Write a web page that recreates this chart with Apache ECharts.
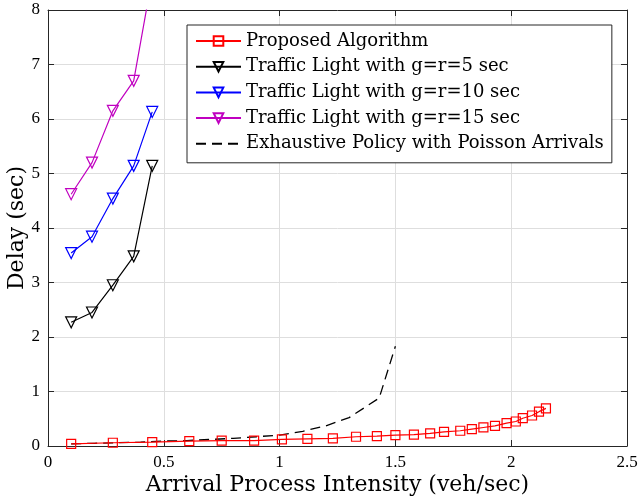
<!DOCTYPE html>
<html><head><meta charset="utf-8">
<script src="https://cdn.jsdelivr.net/npm/echarts@6/dist/echarts.min.js"></script>
<style>html,body{margin:0;padding:0;background:#fff}#c{width:640px;height:501px}</style>
</head><body><div id="c"></div>
<script>
const xTicks = [0, 0.5, 1, 1.5, 2, 2.5];
const yTicks = [0, 1, 2, 3, 4, 5, 6, 7, 8];

const proposedX = [0.1, 0.28, 0.45, 0.61, 0.75, 0.89, 1.01, 1.12, 1.23, 1.33, 1.42, 1.5, 1.58, 1.65, 1.71, 1.78, 1.83, 1.88, 1.93, 1.98, 2.02, 2.05, 2.09, 2.12, 2.15];
const proposedY = [0.04, 0.06, 0.07, 0.09, 0.1, 0.1, 0.12, 0.13, 0.14, 0.17, 0.18, 0.2, 0.21, 0.23, 0.26, 0.28, 0.31, 0.34, 0.37, 0.42, 0.45, 0.51, 0.56, 0.63, 0.69];

const lightX = [0.1, 0.19, 0.28, 0.37, 0.45];
const light5Y = [2.27, 2.45, 2.95, 3.48, 5.14];
const light10Y = [3.54, 3.84, 4.54, 5.14, 6.13];
const light15Y = [4.62, 5.2, 6.15, 6.7, 8.6];

const exhaustX = [0.1, 0.2, 0.3, 0.4, 0.5, 0.6, 0.7, 0.8, 0.9, 1.0, 1.1, 1.2, 1.3, 1.43, 1.5];
const exhaustY = [0.04, 0.05, 0.06, 0.07, 0.09, 0.1, 0.12, 0.14, 0.17, 0.2, 0.27, 0.37, 0.52, 0.88, 1.83];

const names = ['Proposed Algorithm', 'Traffic Light with g=r=5 sec', 'Traffic Light with g=r=10 sec', 'Traffic Light with g=r=15 sec', 'Exhaustive Policy with Poisson Arrivals'];

const zip = (xs, ys) => xs.map((x, i) => [x, ys[i]]);
const FONT = 'Liberation Serif';
const WIDE = 'DejaVu Serif';

function tri(name, ys, color) {
  return {
    name, type: 'line', data: zip(lightX, ys),
    symbol: 'triangle', symbolRotate: 180, symbolSize: 11,
    lineStyle: { color, width: 1.2 },
    itemStyle: { color: 'rgba(255,255,255,0)', borderColor: color, borderWidth: 1.2 },
    emphasis: { disabled: true }, z: 3
  };
}

const chart = echarts.init(document.getElementById('c'), null, { renderer: 'canvas' });
const fmt = v => String(+v.toFixed(2));
chart.setOption({
  animation: false,
  backgroundColor: '#fff',
  textStyle: { fontFamily: FONT },
  grid: { left: 48, right: 13, top: 10, bottom: 55, containLabel: false, outerBoundsMode: 'none' },
  xAxis: [{
    type: 'value', min: xTicks[0], max: xTicks[xTicks.length - 1], interval: 0.5,
    name: 'Arrival Process Intensity (veh/sec)', nameLocation: 'middle', nameGap: 28, nameMoveOverlap: false,
    nameTextStyle: { fontFamily: WIDE, fontSize: 22, color: '#000' },
    axisLine: { onZero: false, lineStyle: { color: '#262626', width: 1 } },
    axisTick: { inside: true, length: 6, lineStyle: { color: '#262626' } },
    axisLabel: { fontFamily: FONT, fontSize: 17, color: '#000', margin: 8, formatter: fmt },
    splitLine: { show: true, lineStyle: { color: '#dedede', width: 1 } }
  }, {
    type: 'value', position: 'top', min: xTicks[0], max: xTicks[xTicks.length - 1], interval: 0.5,
    axisLine: { show: true, onZero: false, lineStyle: { color: '#262626', width: 1 } },
    axisTick: { inside: true, length: 6, lineStyle: { color: '#262626' } },
    axisLabel: { show: false }, splitLine: { show: false }
  }],
  yAxis: [{
    type: 'value', min: yTicks[0], max: yTicks[yTicks.length - 1], interval: 1,
    name: 'Delay (sec)', nameLocation: 'middle', nameGap: 20, nameRotate: 90, nameMoveOverlap: false,
    nameTextStyle: { fontFamily: WIDE, fontSize: 22, color: '#000' },
    axisLine: { show: true, onZero: false, lineStyle: { color: '#262626', width: 1 } },
    axisTick: { show: true, inside: true, length: 6, lineStyle: { color: '#262626' } },
    axisLabel: { fontFamily: FONT, fontSize: 17, color: '#000', margin: 8 },
    splitLine: { show: true, lineStyle: { color: '#dedede', width: 1 } }
  }, {
    type: 'value', position: 'right', min: yTicks[0], max: yTicks[yTicks.length - 1], interval: 1,
    axisLine: { show: true, onZero: false, lineStyle: { color: '#262626', width: 1 } },
    axisTick: { show: true, inside: true, length: 6, lineStyle: { color: '#262626' } },
    axisLabel: { show: false }, splitLine: { show: false }
  }],
  legend: {
    orient: 'vertical', left: 187, top: 25,
    data: [names[0], names[1], names[2], names[3], { name: names[4], itemStyle: { opacity: 0 } }],
    backgroundColor: '#fff', borderColor: '#262626', borderWidth: 1, borderRadius: 0,
    padding: [7, 8, 10, 8], itemGap: 7.7, itemWidth: 45, itemHeight: 12,
    textStyle: { fontFamily: WIDE, fontSize: 18, color: '#000' }
  },
  series: [
    {
      name: names[0], type: 'line', data: zip(proposedX, proposedY),
      symbol: 'rect', symbolSize: 9,
      lineStyle: { color: '#ff0000', width: 1.2 },
      itemStyle: { color: 'rgba(255,255,255,0)', borderColor: '#ff0000', borderWidth: 1.2 },
      emphasis: { disabled: true }, z: 4
    },
    tri(names[1], light5Y, '#000000'),
    tri(names[2], light10Y, '#0000ff'),
    tri(names[3], light15Y, '#c000c0'),
    {
      name: names[4], type: 'line', data: zip(exhaustX, exhaustY),
      symbol: 'none', showSymbol: false,
      lineStyle: { color: '#000', width: 1.3, type: [10, 6] },
      itemStyle: { color: '#000' },
      emphasis: { disabled: true }, z: 2
    }
  ]
});
</script></body></html>
